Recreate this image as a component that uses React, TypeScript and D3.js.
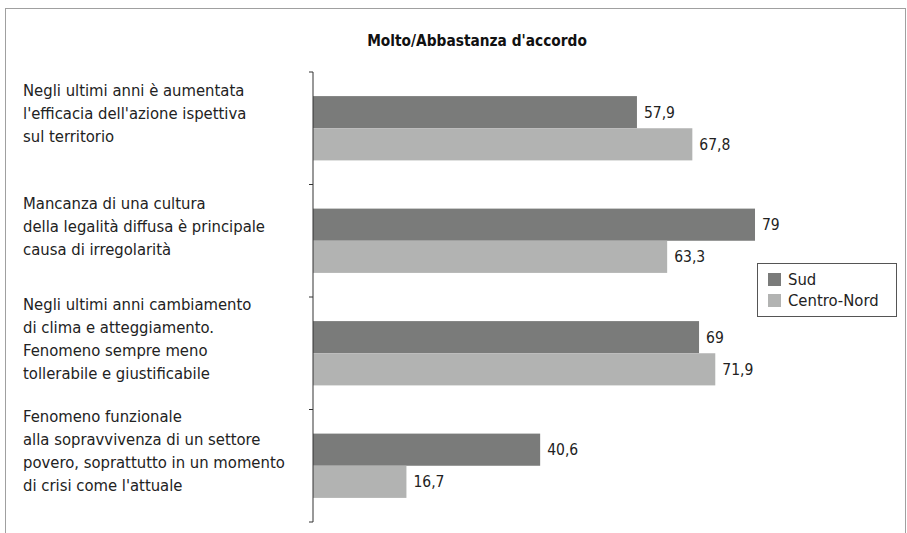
import React from "react";
import * as d3 from "d3";

const categories: string[][] = [
  ["Negli ultimi anni è aumentata", "l'efficacia dell'azione ispettiva", "sul territorio"],
  ["Mancanza di una cultura", "della legalità diffusa è principale", "causa di irregolarità"],
  ["Negli ultimi anni cambiamento", "di clima e atteggiamento.", "Fenomeno sempre meno", "tollerabile e giustificabile"],
  ["Fenomeno funzionale", "alla sopravvivenza di un settore", "povero, soprattutto in un momento", "di crisi come l'attuale"],
];
const seriesNames = ["Sud", "Centro-Nord"];
const sudValues = [57.9, 79, 69, 40.6];
const centroNordValues = [67.8, 63.3, 71.9, 16.7];
const valueLabels = [
  ["57,9", "79", "69", "40,6"],
  ["67,8", "63,3", "71,9", "16,7"],
];
const title = "Molto/Abbastanza d'accordo";

const colors = ["#7a7b7a", "#b2b3b2"];
const FONT = "'DejaVu Sans Condensed', 'DejaVu Sans', sans-serif";

export default function App() {
  const W = 907, H = 533;
  const axisX = 313;
  const y = d3.scaleBand<number>().domain(d3.range(categories.length)).range([72, 522]).paddingInner(0).paddingOuter(0);
  const x = d3.scaleLinear().domain([0, 100]).range([axisX, axisX + 559.5]);
  const inner = d3.scaleBand<number>().domain([0, 1]).range([0, y.bandwidth()]).paddingOuter(0.75).paddingInner(0);
  const series = [sudValues, centroNordValues];
  const ticks = d3.range(categories.length + 1).map((i) => 72 + i * y.bandwidth());

  return (
    <svg width={W} height={H} style={{ position: "absolute", left: 0, top: 0 }} fontFamily={FONT}>
      <rect x={0} y={0} width={W} height={H} fill="#fff" />
      <rect x={5.5} y={8.5} width={900} height={540} fill="none" stroke="#a0a0a0" strokeWidth={1} />
      <text x={477} y={41} dy="0.35em" textAnchor="middle" fontSize={15.3} fontWeight="bold" fill="#111">{title}</text>
      {categories.map((lines, i) => {
        const c = (y(i) as number) + y.bandwidth() / 2 - 15;
        const lh = 23;
        const start = c - ((lines.length - 1) * lh) / 2;
        return (
          <text key={i} x={23} fontSize={16.5} fill="#222">
            {lines.map((l, j) => (
              <tspan key={j} x={23} y={start + j * lh} dy="0.35em">{l}</tspan>
            ))}
          </text>
        );
      })}
      {series.map((vals, s) =>
        vals.map((v, i) => {
          const by = (y(i) as number) + (inner(s) as number);
          return (
            <g key={`${s}-${i}`}>
              <rect x={x(0)} y={by} width={x(v) - x(0)} height={inner.bandwidth()} fill={colors[s]} />
              <text x={x(v) + 7} y={by + inner.bandwidth() / 2} dy="0.35em" fontSize={15.5} fill="#222">{valueLabels[s][i]}</text>
            </g>
          );
        })
      )}
      <line x1={axisX} x2={axisX} y1={72} y2={522} stroke="#333" strokeWidth={1} />
      {ticks.map((t, i) => (
        <line key={i} x1={axisX - 4} x2={axisX} y1={t} y2={t} stroke="#333" strokeWidth={1} />
      ))}
      <rect x={757.5} y={263.5} width={139} height={53} fill="#fff" stroke="#555" strokeWidth={1} />
      {seriesNames.map((n, i) => (
        <g key={n}>
          <rect x={768} y={273 + i * 21} width={13} height={13} fill={colors[i]} />
          <text x={788} y={279.5 + i * 21} dy="0.35em" fontSize={16.5} fill="#222">{n}</text>
        </g>
      ))}
    </svg>
  );
}
